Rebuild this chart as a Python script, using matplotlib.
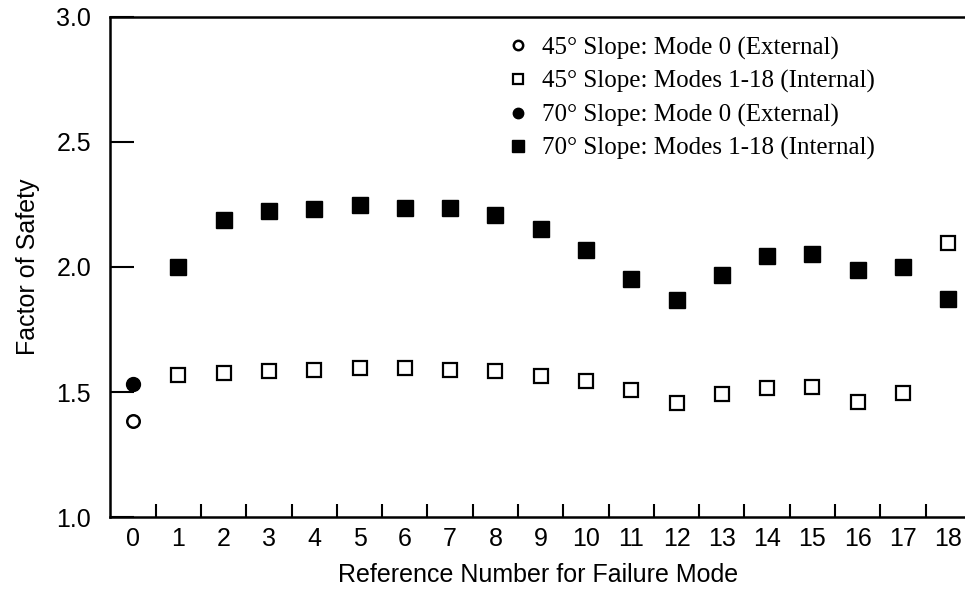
import numpy as np
import matplotlib
matplotlib.use("Agg")
import matplotlib.pyplot as plt
from matplotlib.ticker import FixedLocator

# Data
modes = np.arange(1, 19)
fs_45_internal = [1.57, 1.575, 1.585, 1.59, 1.595, 1.595, 1.59, 1.583, 1.565,
                  1.543, 1.508, 1.457, 1.492, 1.515, 1.52, 1.46, 1.497, 2.095]
fs_70_internal = [2.0, 2.187, 2.225, 2.231, 2.247, 2.236, 2.236, 2.207, 2.151,
                  2.069, 1.951, 1.867, 1.969, 2.044, 2.052, 1.988, 2.0, 1.872]
fs_45_external = [1.383]
fs_70_external = [1.531]
mode_external = [0]

x_ticklabels = [str(i) for i in range(19)]
y_ticks = [1.0, 1.5, 2.0, 2.5, 3.0]

plt.rcParams['font.family'] = ['Liberation Sans', 'DejaVu Sans']

fig = plt.figure(figsize=(9.65, 5.89), dpi=100)
ax = fig.add_axes([0.1145, 0.1222, 0.8855, 0.849])

ax.plot(mode_external, fs_45_external, 'o', ms=9, mfc='white', mec='black',
        mew=1.8, ls='none', label=u"45\u00b0 Slope: Mode 0 (External)", clip_on=False)
ax.plot(modes, fs_45_internal, 's', ms=10.5, mfc='white', mec='black',
        mew=1.6, ls='none', label=u"45\u00b0 Slope: Modes 1-18 (Internal)", clip_on=False)
ax.plot(mode_external, fs_70_external, 'o', ms=10, mfc='black', mec='black',
        ls='none', label=u"70\u00b0 Slope: Mode 0 (External)", clip_on=False)
ax.plot(modes, fs_70_internal, 's', ms=11.5, mfc='black', mec='black',
        ls='none', label=u"70\u00b0 Slope: Modes 1-18 (Internal)", clip_on=False)

ax.set_xlim(-0.5, 18.37)
ax.set_ylim(1.0, 3.0)

ax.set_xticks(range(19))
ax.set_xticklabels(x_ticklabels)
ax.xaxis.set_minor_locator(FixedLocator(np.arange(0.5, 18, 1.0)))
ax.set_yticks(y_ticks)
ax.set_yticklabels(["%.1f" % v for v in y_ticks])

ax.tick_params(axis='x', which='major', length=0, labelsize=18, pad=7)
ax.tick_params(axis='x', which='minor', direction='in', length=9.5, width=1.5)
ax.tick_params(axis='y', which='major', direction='in', length=17, width=1.5,
               labelsize=18, pad=14)
ax.yaxis.set_minor_locator(FixedLocator([]))

for s in ['left', 'bottom', 'top']:
    ax.spines[s].set_linewidth(1.8)
ax.spines['right'].set_visible(False)

ax.set_xlabel("Reference Number for Failure Mode", fontsize=18, labelpad=9)
ax.set_ylabel("Factor of Safety", fontsize=18, labelpad=12)

leg = ax.legend(loc='upper left', bbox_to_anchor=(0.516, 0.955),
                bbox_transform=fig.transFigure, frameon=False,
                prop={'family': 'Liberation Serif', 'size': 18},
                handlelength=0.8, handletextpad=0.55, labelspacing=0.42,
                markerscale=0.75, borderaxespad=0)

fig.savefig("out.png", dpi=100)
